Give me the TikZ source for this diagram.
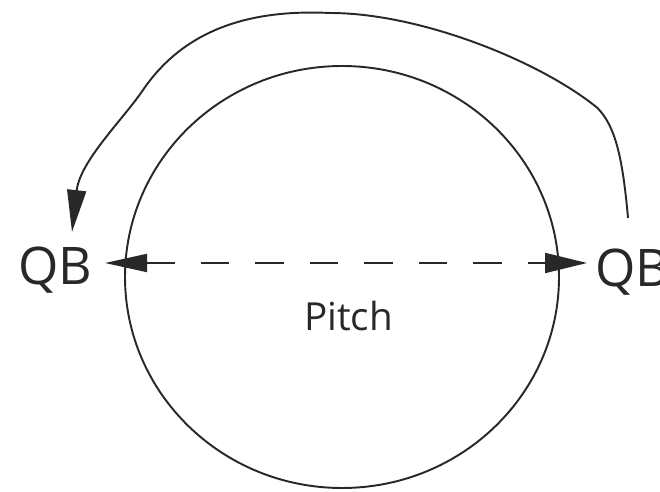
\documentclass[tikz,border=0pt]{standalone}
\usepackage{fontspec}
\setmainfont{Open Sans}
\usepackage{tikz}
\usetikzlibrary{shapes.geometric, arrows.meta, positioning, calc}
\definecolor{inkgray}{RGB}{40, 40, 40}

\begin{document}
\begin{tikzpicture}[
				pitchshape/.style={ellipse, draw=inkgray, line width=1.1pt, minimum width=8.68cm, minimum height=8.44cm, inner sep=0pt},
				qblabel/.style={font=\fontsize{29.5}{32}\selectfont, text=inkgray, inner sep=0pt},
				pitchlabel/.style={font=\fontsize{22}{24}\selectfont, text=inkgray, inner sep=0pt},
				passline/.style={draw=inkgray, line width=1.1pt, dash pattern=on 16pt off 15pt, {Triangle[length=0.84cm, width=0.36cm]}-{Triangle[length=0.84cm, width=0.4cm]}},
				runline/.style={draw=inkgray, line width=1.1pt, -{Triangle[length=0.84cm, width=0.38cm]}}
				]
				\useasboundingbox (0,0) rectangle (13.2,9.82);
				% Pitch
				\node[pitchshape] (pitch) at (6.84, 4.28) {};
				\node[pitchlabel] (lbl_pitch) at (6.97, 3.50) {Pitch};
				
				% Quarterbacks
				\node[qblabel, anchor=base west] (qb_left) at (0.36, 4.12) {QB};
				\node[qblabel, anchor=base west] (qb_right) at (11.9, 4.08) {QB};
				
				% Pass across the pitch
				\coordinate (tip_left) at (2.1, 4.56);
				\coordinate (tip_right) at (11.74, 4.56);
				\draw[passline] (tip_left) -- (tip_right);
				
				% Run round the pitch
				\coordinate (run_start) at (12.56, 5.46);
				\coordinate (run_top) at (6.6, 9.56);
				\coordinate (run_end) at (1.44, 5.18);
				\draw[runline] (run_start) .. controls (12.45, 6.7) and (12.3, 7.3) .. (11.95, 7.66)
					.. controls (10.8, 8.6) and (8.4, 9.56) .. (run_top)
					.. controls (5.3, 9.62) and (3.8, 9.4) .. (2.86, 8.02)
					.. controls (2.46, 7.43) and (1.6, 6.6) .. (run_end);
			\end{tikzpicture}
\end{document}
